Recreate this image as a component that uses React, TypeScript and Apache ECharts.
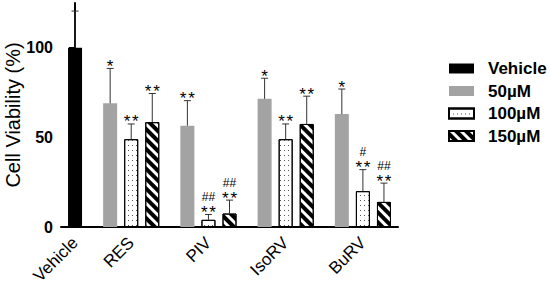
import React, { useEffect, useRef } from "react";
import * as echarts from "echarts";

// ---- data ----
const categories = ["Vehicle", "RES", "PIV", "IsoRV", "BuRV"];
const seriesNames = ["Vehicle", "50µM", "100µM", "150µM"];

const vehicleMean = [100];
const vehicleSd = [20.5];

const mean50 = [69, 56.5, 71.5, 63];
const sd50 = [19.5, 14, 11.5, 14];
const mean100 = [49, 4, 49, 20];
const sd100 = [8.5, 3, 8.5, 12];
const mean150 = [58.5, 7.5, 57.5, 14];
const sd150 = [16, 7.5, 15.5, 10.5];

const stars50 = ["*", "**", "*", "*"];
const hash50 = ["", "", "", ""];
const stars100 = ["**", "**", "**", "**"];
const hash100 = ["", "##", "", "#"];
const stars150 = ["**", "**", "**", "**"];
const hash150 = ["", "##", "", "##"];

const yTicks = [0, 50, 100];

// ---- layout helpers (slot positions on a hidden numeric x scale) ----
const SLOT = 3; // bar pitch
const GROUP = 11; // group pitch
const slotPos = (group: number, member: number) =>
  group === 0 ? 0 : GROUP * group - 3 + SLOT * (member - 1);
const groupCenter = (group: number) => (group === 0 ? 0 : GROUP * group - 3);

const FONT = "'Liberation Sans', Arial, Helvetica, sans-serif";

export default function App() {
  const ref = useRef<HTMLDivElement>(null);

  useEffect(() => {
    if (!ref.current) return;
    const chart = echarts.init(ref.current, null, { renderer: "svg" });

    const vehicleData = vehicleMean.map((v) => [slotPos(0, 0), v]);
    const d50 = mean50.map((v, i) => [slotPos(i + 1, 0), v]);
    const d100 = mean100.map((v, i) => [slotPos(i + 1, 1), v]);
    const d150 = mean150.map((v, i) => [slotPos(i + 1, 2), v]);

    const errRows: number[][] = [];
    const errStars: string[] = [];
    const errHash: string[] = [];
    vehicleMean.forEach((v, i) => {
      errRows.push([slotPos(0, 0), v, v + vehicleSd[i]]);
      errStars.push("");
      errHash.push("");
    });
    const addGroup = (means: number[], sds: number[], st: string[], hs: string[], member: number) => {
      means.forEach((v, i) => {
        errRows.push([slotPos(i + 1, member), v, v + sds[i]]);
        errStars.push(st[i]);
        errHash.push(hs[i]);
      });
    };
    addGroup(mean50, sd50, stars50, hash50, 0);
    addGroup(mean100, sd100, stars100, hash100, 1);
    addGroup(mean150, sd150, stars150, hash150, 2);

    const labelPositions = categories.map((_, g) => groupCenter(g));

    const option: any = {
      animation: false,
      textStyle: { fontFamily: FONT },
      grid: { left: 61, right: 152, top: 3, bottom: 60, containLabel: false, outerBoundsMode: "none" },
      legend: {
        orient: "vertical",
        left: 443,
        top: 55,
        itemWidth: 25,
        itemHeight: 10,
        itemGap: 5.5,
        icon: "rect",
        data: seriesNames,
        textStyle: { fontFamily: FONT, fontSize: 17, fontWeight: "bold", color: "#000", padding: [0, 0, 0, 9] },
      },
      xAxis: {
        type: "value",
        min: -2,
        max: 46,
        splitLine: { show: false },
        axisTick: { show: false },
        axisLine: { show: true, lineStyle: { color: "#000", width: 2 } },
        axisLabel: {
          customValues: labelPositions,
          rotate: 45,
          margin: 13,
          fontSize: 17,
          color: "#000",
          fontFamily: FONT,
          formatter: (v: number) => {
            const idx = labelPositions.indexOf(v);
            return idx >= 0 ? categories[idx] : "";
          },
        },
      },
      yAxis: {
        type: "value",
        min: 0,
        max: 125,
        splitLine: { show: false },
        axisLine: { show: true, lineStyle: { color: "#000", width: 2 } },
        axisTick: { show: true, length: 6, customValues: yTicks, lineStyle: { color: "#000", width: 2 } },
        axisLabel: {
          customValues: yTicks,
          margin: 8,
          fontSize: 16,
          fontWeight: "bold",
          color: "#000",
          fontFamily: FONT,
        },
        name: "Cell Viability (%)",
        nameLocation: "middle",
        nameGap: 38,
        nameMoveOverlap: false,
        nameTextStyle: { fontSize: 20, color: "#000", fontFamily: FONT },
      },
      series: [
        {
          name: seriesNames[0],
          type: "bar",
          barWidth: 14,
          barGap: "-100%",
          data: vehicleData,
          itemStyle: { color: "#000" },
        },
        {
          name: seriesNames[1],
          type: "bar",
          barWidth: 14,
          barGap: "-100%",
          data: d50,
          itemStyle: { color: "#a3a3a3" },
        },
        {
          name: seriesNames[2],
          type: "bar",
          barWidth: 14,
          barGap: "-100%",
          data: d100,
          itemStyle: {
            color: "#fff",
            borderColor: "#000",
            borderWidth: 1,
            decal: {
              symbol: "rect",
              symbolSize: 1,
              color: "#555",
              backgroundColor: "#fff",
              dashArrayX: [1, 3],
              dashArrayY: [1, 4],
              rotation: 0,
            },
          },
        },
        {
          name: seriesNames[3],
          type: "bar",
          barWidth: 14,
          barGap: "-100%",
          data: d150,
          itemStyle: {
            color: "#fff",
            borderColor: "#000",
            borderWidth: 1,
            decal: {
              symbol: "rect",
              symbolSize: 1,
              color: "#000",
              backgroundColor: "#fff",
              dashArrayX: [1, 0],
              dashArrayY: [4, 3],
              rotation: Math.PI / 4,
            },
          },
        },
        {
          type: "custom",
          name: "err",
          data: errRows,
          encode: { x: 0, y: 2 },
          z: 10,
          silent: true,
          itemStyle: { color: "#000" },
          renderItem: (params: any, api: any) => {
            const x = api.value(0);
            const m = api.value(1);
            const t = api.value(2);
            const p0 = api.coord([x, m]);
            const p1 = api.coord([x, t]);
            const i = params.dataIndex;
            const st = errStars[i];
            const hs = errHash[i];
            const children: any[] = [
              {
                type: "line",
                shape: { x1: p0[0], y1: p0[1], x2: p1[0], y2: p1[1] },
                style: { stroke: "#333", lineWidth: 1 },
              },
              {
                type: "line",
                shape: { x1: p1[0] - 3.5, y1: p1[1], x2: p1[0] + 3.5, y2: p1[1] },
                style: { stroke: "#333", lineWidth: 1 },
              },
            ];
            const starXs = st.length === 2 ? [-4.2, 4.2] : st.length === 1 ? [0] : [];
            starXs.forEach((dx) => {
              children.push({
                type: "text",
                x: p1[0] + dx,
                y: p1[1] - 2,
                style: {
                  text: "*",
                  fontSize: 17,
                  fontFamily: FONT,
                  fill: "#000",
                  align: "center",
                  verticalAlign: "middle",
                },
              });
            });
            if (hs) {
              children.push({
                type: "text",
                x: p1[0],
                y: p1[1] - 17.5,
                style: {
                  text: hs,
                  fontSize: 12,
                  fontFamily: FONT,
                  fill: "#000",
                  align: "center",
                  verticalAlign: "middle",
                },
              });
            }
            return { type: "group", children };
          },
        },
      ],
    };

    chart.setOption(option);
    return () => chart.dispose();
  }, []);

  return (
    <div
      ref={ref}
      style={{ position: "absolute", left: 0, top: 0, width: 550, height: 287, background: "#fff" }}
    />
  );
}
